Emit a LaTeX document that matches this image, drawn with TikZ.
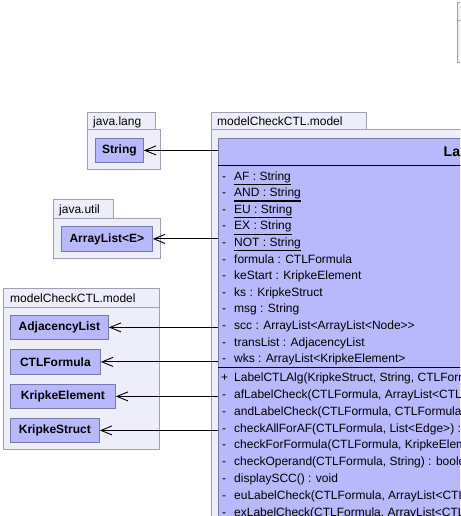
\documentclass[tikz,border=0pt]{standalone}
\usepackage{fontspec}
\setmainfont{Liberation Sans}
\usetikzlibrary{arrows.meta}
\definecolor{pkgfill}{RGB}{238,238,250}
\definecolor{pkgline}{RGB}{160,160,180}
\definecolor{clsfill}{RGB}{184,184,252}
\definecolor{clsline}{RGB}{120,120,175}
\newcommand\staticul[1]{\leavevmode\vtop{\hbox{#1}\kern1.4pt\hrule height 1.2pt}}
\begin{document}
\begin{tikzpicture}[x=1pt,y=-1pt,
  pkg/.style={draw=pkgline, fill=pkgfill, line width=0.8pt},
  cls/.style={draw=clsline, fill=clsfill, line width=0.8pt, inner sep=0pt, anchor=north west,
    font=\fontsize{12}{14}\selectfont\bfseries},
  pkglabel/.style={anchor=base west, inner sep=0pt, font=\fontsize{12}{14}\selectfont},
  member/.style={anchor=base west, inner sep=0pt, font=\fontsize{12}{14}\selectfont},
  dep/.style={draw=black, line width=0.9pt, -{Straight Barb[length=11pt,width=9pt,line width=0.9pt]}},
]
\useasboundingbox (0,0) rectangle (460,516);
\clip (0,0) rectangle (460,516);

% top-right partial package
\draw[pkg] (457,2) rectangle (480,20);
\draw[pkg] (457,20) rectangle (480,62);

% java.lang
\draw[pkg] (87,112) rectangle (155,129);
\draw[pkg] (87,129) rectangle (160,169);
\node[pkglabel] (jl) at (93,125) {java.lang};
\node[cls, minimum width=48pt, minimum height=24pt] (str) at (95,138) {String};

% java.util
\draw[pkg] (53,199) rectangle (113,218);
\draw[pkg] (53,218) rectangle (160,258);
\node[pkglabel] (ju) at (59,213) {java.util};
\node[cls, minimum width=91pt, minimum height=25pt] (al) at (61,226) {ArrayList<E>};

% left modelCheckCTL.model
\draw[pkg] (3,288) rectangle (159,307);
\draw[pkg] (3,307) rectangle (159,449);
\node[pkglabel] (mlab) at (10,302) {modelCheckCTL.model};
\node[cls, minimum width=98pt, minimum height=24pt] (adj) at (10,315) {AdjacencyList};
\node[cls, minimum width=90pt, minimum height=25pt] (ctl) at (10,349) {CTLFormula};
\node[cls, minimum width=105pt, minimum height=24pt] (ke) at (10,384) {KripkeElement};
\node[cls, minimum width=89pt, minimum height=24pt] (kst) at (10,418) {KripkeStruct};

% main package
\draw[pkg] (211,112) rectangle (366,129);
\draw[pkg] (211,129) rectangle (480,540);
\node[pkglabel] (mmain) at (217,125) {modelCheckCTL.model};

% main class
\node[draw=clsline, fill=clsfill, line width=0.8pt, inner sep=0pt, anchor=north west,
      minimum width=270pt, minimum height=400pt] (lbl) at (218,138) {};
\node[anchor=base west, inner sep=0pt, font=\fontsize{14}{16}\selectfont\bfseries] (title) at (443.5,156.5) {LabelCTLAlg};
\draw[line width=0.9pt] (218,165) -- (480,165);
\draw[line width=0.9pt] (218,367) -- (480,367);

% attributes
\foreach \i/\t in {0/\staticul{AF : String},1/\staticul{AND : String},2/\staticul{EU : String},
  3/\staticul{EX : String},4/\staticul{NOT : String},5/formula : CTLFormula,
  6/keStart : KripkeElement,7/ks : KripkeStruct,8/msg : String,
  9/scc : ArrayList<ArrayList<Node>{}>,10/transList : AdjacencyList,11/wks : ArrayList<KripkeElement>}{
  \node[member] at (222,{180+16.6*\i}) {-};
  \node[member] at (234,{180+16.6*\i}) {\t};
}

% operations
\node[member] at (221,381.5) {+};
\node[member] at (234,381.5) {LabelCTLAlg(KripkeStruct, String, CTLFormula)};
\foreach \i/\t in {1/{afLabelCheck(CTLFormula, ArrayList<CTLFormula>)},
  2/{andLabelCheck(CTLFormula, CTLFormula)},
  3/{checkAllForAF(CTLFormula, List<Edge>) : boolean},
  4/{checkForFormula(CTLFormula, KripkeElement)},
  5/{checkOperand(CTLFormula, String) : boolean},
  6/{displaySCC() : void},
  7/{euLabelCheck(CTLFormula, ArrayList<CTLFormula>)},
  8/{exLabelCheck(CTLFormula, ArrayList<CTLFormula>)}}{
  \node[member] at (222,{381.5+16.85*\i}) {-};
  \node[member] at (234,{381.5+16.85*\i}) {\t};
}

% dependencies
\draw[dep] (lbl.west |- str.east) -- (str.east);
\draw[dep] (lbl.west |- al.east) -- (al.east);
\draw[dep] (lbl.west |- adj.east) -- (adj.east);
\draw[dep] (lbl.west |- ctl.east) -- (ctl.east);
\draw[dep] (lbl.west |- ke.east) -- (ke.east);
\draw[dep] (lbl.west |- kst.east) -- (kst.east);
\end{tikzpicture}
\end{document}
